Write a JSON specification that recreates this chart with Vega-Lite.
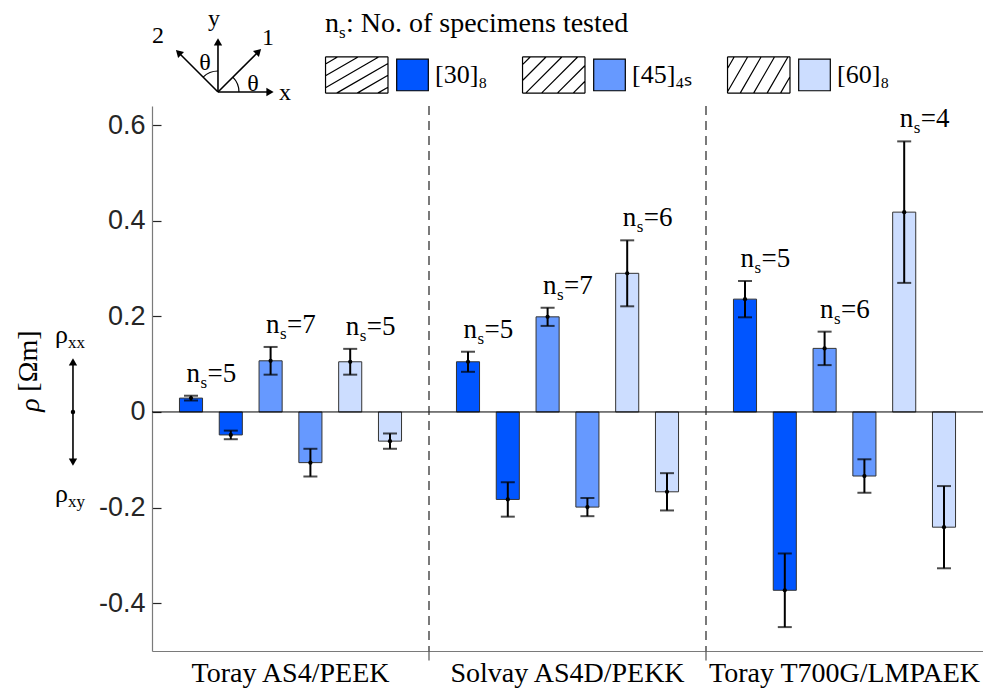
{
  "$schema": "https://vega.github.io/schema/vega-lite/v6.json",
  "width": 831,
  "height": 545,
  "autosize": {"type": "none"},
  "padding": {"left": 152, "top": 106, "right": 0, "bottom": 38},
  "background": "white",
  "config": {"view": {"stroke": null}, "font": "Liberation Serif"},
  "datasets": {
    "resistivity": [
      {"material": "Toray AS4/PEEK", "layup": "30", "comp": "xx", "rho": 0.029, "err": 0.005, "ns": 5},
      {"material": "Toray AS4/PEEK", "layup": "30", "comp": "xy", "rho": -0.048, "err": 0.009, "ns": 5},
      {"material": "Toray AS4/PEEK", "layup": "45", "comp": "xx", "rho": 0.107, "err": 0.029, "ns": 7},
      {"material": "Toray AS4/PEEK", "layup": "45", "comp": "xy", "rho": -0.106, "err": 0.029, "ns": 7},
      {"material": "Toray AS4/PEEK", "layup": "60", "comp": "xx", "rho": 0.105, "err": 0.027, "ns": 5},
      {"material": "Toray AS4/PEEK", "layup": "60", "comp": "xy", "rho": -0.061, "err": 0.016, "ns": 5},
      {"material": "Solvay AS4D/PEKK", "layup": "30", "comp": "xx", "rho": 0.105, "err": 0.021, "ns": 5},
      {"material": "Solvay AS4D/PEKK", "layup": "30", "comp": "xy", "rho": -0.183, "err": 0.036, "ns": 5},
      {"material": "Solvay AS4D/PEKK", "layup": "45", "comp": "xx", "rho": 0.199, "err": 0.019, "ns": 7},
      {"material": "Solvay AS4D/PEKK", "layup": "45", "comp": "xy", "rho": -0.199, "err": 0.019, "ns": 7},
      {"material": "Solvay AS4D/PEKK", "layup": "60", "comp": "xx", "rho": 0.290, "err": 0.069, "ns": 6},
      {"material": "Solvay AS4D/PEKK", "layup": "60", "comp": "xy", "rho": -0.167, "err": 0.039, "ns": 6},
      {"material": "Toray T700G/LMPAEK", "layup": "30", "comp": "xx", "rho": 0.236, "err": 0.038, "ns": 5},
      {"material": "Toray T700G/LMPAEK", "layup": "30", "comp": "xy", "rho": -0.373, "err": 0.077, "ns": 5},
      {"material": "Toray T700G/LMPAEK", "layup": "45", "comp": "xx", "rho": 0.133, "err": 0.035, "ns": 6},
      {"material": "Toray T700G/LMPAEK", "layup": "45", "comp": "xy", "rho": -0.134, "err": 0.035, "ns": 6},
      {"material": "Toray T700G/LMPAEK", "layup": "60", "comp": "xx", "rho": 0.418, "err": 0.148, "ns": 4},
      {"material": "Toray T700G/LMPAEK", "layup": "60", "comp": "xy", "rho": -0.241, "err": 0.086, "ns": 4}
    ],
    "dividers": [
      {"material": "Solvay AS4D/PEKK"},
      {"material": "Toray T700G/LMPAEK"}
    ],
    "arrows": [
      {"fx": 0.0794, "v": 0.6693, "fx2": 0.1420, "v2": 0.6693},
      {"fx": 0.0794, "v": 0.6693, "fx2": 0.0794, "v2": 0.7739},
      {"fx": 0.0794, "v": 0.6693, "fx2": 0.1282, "v2": 0.7540},
      {"fx": 0.0794, "v": 0.6693, "fx2": 0.0319, "v2": 0.7519},
      {"fx": -0.0951, "v": -0.105, "fx2": -0.0951, "v2": 0.105}
    ],
    "heads": [
      {"fx": 0.1420, "v": 0.6693, "angle": 90},
      {"fx": 0.0794, "v": 0.7739, "angle": 0},
      {"fx": 0.1282, "v": 0.7540, "angle": 45},
      {"fx": 0.0319, "v": 0.7519, "angle": -45},
      {"fx": -0.0951, "v": 0.105, "angle": 0},
      {"fx": -0.0951, "v": -0.105, "angle": 180}
    ],
    "angles": [
      {"fx": 0.0794, "v": 0.6693, "t0": 0.785398, "t1": 1.570796},
      {"fx": 0.0794, "v": 0.6693, "t0": -0.785398, "t1": 0}
    ],
    "axisLabels": [
      {"fx": 0.160, "v": 0.6526, "label": "x"},
      {"fx": 0.0746, "v": 0.8073, "label": "y"},
      {"fx": 0.1396, "v": 0.7676, "label": "1"},
      {"fx": 0.0072, "v": 0.7718, "label": "2"},
      {"fx": 0.1215, "v": 0.6714, "label": "θ"},
      {"fx": 0.0638, "v": 0.7153, "label": "θ"}
    ],
    "components": [
      {"fx": -0.1011, "v": 0.1443, "sym": "ρ", "sub": "xx"},
      {"fx": -0.1011, "v": -0.1883, "sym": "ρ", "sub": "xy"}
    ],
    "legendHeading": [
      {"fx": 0.2082, "v": 0.7948, "part": "n", "role": "main"},
      {"fx": 0.2250, "v": 0.7948, "part": "s", "role": "sub"},
      {"fx": 0.2334, "v": 0.7948, "part": ": No. of specimens tested", "role": "main"}
    ]
  },
  "layer": [
    {
      "data": {"name": "resistivity"},
      "transform": [
        {"calculate": "datum.rho - datum.err", "as": "lo"},
        {"calculate": "datum.rho + datum.err", "as": "hi"},
        {"calculate": "datum.layup + datum.comp", "as": "series"},
        {"calculate": "'=' + datum.ns", "as": "count"}
      ],
      "layer": [
        {
          "mark": {"type": "bar", "stroke": "#333333", "strokeWidth": 1},
          "encoding": {
            "x": {
              "field": "material", "type": "nominal",
              "scale": {"domain": ["Toray AS4/PEEK", "Solvay AS4D/PEKK", "Toray T700G/LMPAEK"], "paddingInner": 0, "paddingOuter": 0},
              "axis": {
                "title": null, "ticks": false, "labelAngle": 0, "labelLimit": 0, "orient": "bottom",
                "labelFont": "Liberation Serif", "labelFontSize": 28, "labelColor": "black",
                "labelPadding": 8, "domainColor": "#7a7a7a", "domainWidth": 1.2
              }
            },
            "xOffset": {
              "field": "series", "type": "nominal",
              "scale": {"domain": ["30xx", "30xy", "45xx", "45xy", "60xx", "60xy"], "paddingInner": 0.42, "paddingOuter": 0.69}
            },
            "y": {
              "field": "rho", "type": "quantitative",
              "scale": {"domain": [-0.5, 0.64], "nice": false, "zero": false},
              "axis": {
                "title": null, "grid": false, "orient": "left",
                "values": [-0.4, -0.2, 0, 0.2, 0.4, 0.6],
                "labelExpr": "datum.value == 0 ? '0' : replace(format(datum.value, '.1f'), '\u2212', '-')",
                "labelFont": "Liberation Sans", "labelFontSize": 27, "labelColor": "#262626",
                "tickSize": -9, "tickColor": "#262626", "tickWidth": 1.2, "labelPadding": 16,
                "domainColor": "#7a7a7a", "domainWidth": 1.2
              }
            },
            "color": {
              "field": "layup", "type": "nominal",
              "scale": {"domain": ["30", "45", "60"], "range": ["#0055ff", "#6699ff", "#ccddff"]},
              "legend": {
                "title": null,
                "orient": "none", "legendX": 244, "legendY": -48,
                "direction": "horizontal", "columns": 3, "columnPadding": 32,
                "labelFont": "Liberation Serif", "labelFontSize": 26, "labelColor": "black", "labelOffset": 6,
                "labelExpr": "datum.value == '30' ? '[30]₈' : datum.value == '45' ? '[45]₄ₛ' : '[60]₈'",
                "symbolSize": 1000, "symbolStrokeColor": "black", "symbolStrokeWidth": 1.2, "symbolOpacity": 1,
                "encode": {"symbols": {"update": {"stroke": {"value": "black"}, "strokeWidth": {"value": 1.2}, "opacity": {"value": 1}}}}
              }
            }
          }
        },
        {
          "mark": {"type": "rule", "color": "black", "strokeWidth": 2},
          "encoding": {
            "x": {"field": "material", "type": "nominal", "scale": {"domain": ["Toray AS4/PEEK", "Solvay AS4D/PEKK", "Toray T700G/LMPAEK"], "paddingInner": 0, "paddingOuter": 0}},
            "xOffset": {"field": "series", "type": "nominal", "scale": {"domain": ["30xx", "30xy", "45xx", "45xy", "60xx", "60xy"], "paddingInner": 0.42, "paddingOuter": 0.69}},
            "y": {"field": "lo", "type": "quantitative", "title": null, "scale": {"domain": [-0.5, 0.64], "nice": false, "zero": false}},
            "y2": {"field": "hi"}
          }
        },
        {
          "mark": {"type": "tick", "color": "black", "thickness": 2, "size": 14, "orient": "horizontal"},
          "encoding": {
            "x": {"field": "material", "type": "nominal", "scale": {"domain": ["Toray AS4/PEEK", "Solvay AS4D/PEKK", "Toray T700G/LMPAEK"], "paddingInner": 0, "paddingOuter": 0}},
            "xOffset": {"field": "series", "type": "nominal", "scale": {"domain": ["30xx", "30xy", "45xx", "45xy", "60xx", "60xy"], "paddingInner": 0.42, "paddingOuter": 0.69}},
            "y": {"field": "hi", "type": "quantitative", "title": null, "scale": {"domain": [-0.5, 0.64], "nice": false, "zero": false}}
          }
        },
        {
          "mark": {"type": "tick", "color": "black", "thickness": 2, "size": 14, "orient": "horizontal"},
          "encoding": {
            "x": {"field": "material", "type": "nominal", "scale": {"domain": ["Toray AS4/PEEK", "Solvay AS4D/PEKK", "Toray T700G/LMPAEK"], "paddingInner": 0, "paddingOuter": 0}},
            "xOffset": {"field": "series", "type": "nominal", "scale": {"domain": ["30xx", "30xy", "45xx", "45xy", "60xx", "60xy"], "paddingInner": 0.42, "paddingOuter": 0.69}},
            "y": {"field": "lo", "type": "quantitative", "title": null, "scale": {"domain": [-0.5, 0.64], "nice": false, "zero": false}}
          }
        },
        {
          "mark": {"type": "point", "filled": true, "color": "black", "size": 18, "opacity": 1},
          "encoding": {
            "x": {"field": "material", "type": "nominal", "scale": {"domain": ["Toray AS4/PEEK", "Solvay AS4D/PEKK", "Toray T700G/LMPAEK"], "paddingInner": 0, "paddingOuter": 0}},
            "xOffset": {"field": "series", "type": "nominal", "scale": {"domain": ["30xx", "30xy", "45xx", "45xy", "60xx", "60xy"], "paddingInner": 0.42, "paddingOuter": 0.69}},
            "y": {"field": "rho", "type": "quantitative", "title": null, "scale": {"domain": [-0.5, 0.64], "nice": false, "zero": false}}
          }
        },
        {
          "transform": [{"filter": "datum.comp == 'xx'"}],
          "mark": {"type": "text", "font": "Liberation Serif", "fontSize": 27, "align": "right", "baseline": "alphabetic", "dx": 9, "dy": -14, "color": "black"},
          "encoding": {
            "x": {"field": "material", "type": "nominal", "scale": {"domain": ["Toray AS4/PEEK", "Solvay AS4D/PEKK", "Toray T700G/LMPAEK"], "paddingInner": 0, "paddingOuter": 0}},
            "xOffset": {"field": "series", "type": "nominal", "scale": {"domain": ["30xx", "30xy", "45xx", "45xy", "60xx", "60xy"], "paddingInner": 0.42, "paddingOuter": 0.69}},
            "y": {"field": "hi", "type": "quantitative", "title": null, "scale": {"domain": [-0.5, 0.64], "nice": false, "zero": false}},
            "text": {"value": "n"}
          }
        },
        {
          "transform": [{"filter": "datum.comp == 'xx'"}],
          "mark": {"type": "text", "font": "Liberation Serif", "fontSize": 17, "align": "left", "baseline": "alphabetic", "dx": 9.5, "dy": -8, "color": "black"},
          "encoding": {
            "x": {"field": "material", "type": "nominal", "scale": {"domain": ["Toray AS4/PEEK", "Solvay AS4D/PEKK", "Toray T700G/LMPAEK"], "paddingInner": 0, "paddingOuter": 0}},
            "xOffset": {"field": "series", "type": "nominal", "scale": {"domain": ["30xx", "30xy", "45xx", "45xy", "60xx", "60xy"], "paddingInner": 0.42, "paddingOuter": 0.69}},
            "y": {"field": "hi", "type": "quantitative", "title": null, "scale": {"domain": [-0.5, 0.64], "nice": false, "zero": false}},
            "text": {"value": "s"}
          }
        },
        {
          "transform": [{"filter": "datum.comp == 'xx'"}],
          "mark": {"type": "text", "font": "Liberation Serif", "fontSize": 27, "align": "left", "baseline": "alphabetic", "dx": 16.5, "dy": -14, "color": "black"},
          "encoding": {
            "x": {"field": "material", "type": "nominal", "scale": {"domain": ["Toray AS4/PEEK", "Solvay AS4D/PEKK", "Toray T700G/LMPAEK"], "paddingInner": 0, "paddingOuter": 0}},
            "xOffset": {"field": "series", "type": "nominal", "scale": {"domain": ["30xx", "30xy", "45xx", "45xy", "60xx", "60xy"], "paddingInner": 0.42, "paddingOuter": 0.69}},
            "y": {"field": "hi", "type": "quantitative", "title": null, "scale": {"domain": [-0.5, 0.64], "nice": false, "zero": false}},
            "text": {"field": "count"}
          }
        },
        {
          "transform": [{"filter": "false"}],
          "mark": {"type": "point", "filled": true, "opacity": 1},
          "encoding": {
            "x": {"field": "material", "type": "nominal", "scale": {"domain": ["Toray AS4/PEEK", "Solvay AS4D/PEKK", "Toray T700G/LMPAEK"], "paddingInner": 0, "paddingOuter": 0}},
            "y": {"field": "rho", "type": "quantitative", "title": null, "scale": {"domain": [-0.5, 0.64], "nice": false, "zero": false}},
            "color": {
              "field": "layup", "type": "nominal",
              "scale": {"domain": ["30", "45", "60"], "range": ["#0055ff", "#6699ff", "#ccddff"]}
            },
            "shape": {
              "field": "layup", "type": "nominal",
              "scale": {
                "domain": ["30", "45", "60"],
                "range": [
                  "M-5.5,-1.15L-1.55,-1.15M-1.55,-1.15L-1.55,1.15M-1.55,1.15L-5.5,1.15M-5.5,1.15L-5.5,-1.15M-5.5,-0.698L-4.717,-1.15M-5.5,0.053L-3.417,-1.15M-5.5,0.804L-2.117,-1.15M-4.8,1.15L-1.55,-0.727M-3.5,1.15L-1.55,0.024M-2.2,1.15L-1.55,0.775M-1,-1L1,-1L1,1L-1,1Z",
                  "M-5.5,-1.15L-1.55,-1.15M-1.55,-1.15L-1.55,1.15M-1.55,1.15L-5.5,1.15M-5.5,1.15L-5.5,-1.15M-5.5,-0.65L-5,-1.15M-5.5,0.35L-4,-1.15M-5.3,1.15L-3,-1.15M-4.3,1.15L-2,-1.15M-3.3,1.15L-1.55,-0.6M-2.3,1.15L-1.55,0.4M-1,-1L1,-1L1,1L-1,1Z",
                  "M-5.5,-1.15L-1.55,-1.15M-1.55,-1.15L-1.55,1.15M-1.55,1.15L-5.5,1.15M-5.5,1.15L-5.5,-1.15M-5.5,-0.409L-5.072,-1.15M-5.5,1.063L-4.222,-1.15M-4.7,1.15L-3.372,-1.15M-3.85,1.15L-2.522,-1.15M-3,1.15L-1.672,-1.15M-2.15,1.15L-1.55,0.111M-1,-1L1,-1L1,1L-1,1Z"
                ]
              },
              "legend": {"title": null}
            }
          }
        },
        {
          "data": {"values": [{"level": 0}]},
          "mark": {"type": "rule", "color": "black", "strokeWidth": 1},
          "encoding": {
            "y": {"field": "level", "type": "quantitative", "title": null, "scale": {"domain": [-0.5, 0.64], "nice": false, "zero": false}}
          }
        },
        {
          "data": {"name": "dividers"},
          "mark": {"type": "rule", "color": "#222222", "strokeWidth": 1.2, "strokeDash": [9, 6], "clip": false},
          "encoding": {
            "x": {"field": "material", "type": "nominal", "bandPosition": 0, "scale": {"domain": ["Toray AS4/PEEK", "Solvay AS4D/PEKK", "Toray T700G/LMPAEK"], "paddingInner": 0, "paddingOuter": 0}},
            "y": {"datum": 0.64, "type": "quantitative", "title": null, "scale": {"domain": [-0.5, 0.64], "nice": false, "zero": false}},
            "y2": {"datum": -0.5}
          }
        },
        {
          "data": {"name": "dividers"},
          "mark": {"type": "rule", "color": "#555555", "strokeWidth": 1.2, "clip": false},
          "encoding": {
            "x": {"field": "material", "type": "nominal", "bandPosition": 0, "scale": {"domain": ["Toray AS4/PEEK", "Solvay AS4D/PEKK", "Toray T700G/LMPAEK"], "paddingInner": 0, "paddingOuter": 0}},
            "y": {"datum": -0.5, "type": "quantitative", "title": null, "scale": {"domain": [-0.5, 0.64], "nice": false, "zero": false}},
            "y2": {"datum": -0.52}
          }
        }
      ]
    },
    {
      "layer": [
        {
          "data": {"name": "arrows"},
          "mark": {"type": "rule", "color": "black", "strokeWidth": 1.6, "clip": false},
          "encoding": {
            "x": {"field": "fx", "type": "quantitative", "scale": {"domain": [0, 1], "nice": false, "zero": false}, "axis": null},
            "y": {"field": "v", "type": "quantitative", "title": null, "scale": {"domain": [-0.5, 0.64], "nice": false, "zero": false}},
            "x2": {"field": "fx2"},
            "y2": {"field": "v2"}
          }
        },
        {
          "data": {"name": "heads"},
          "mark": {"type": "point", "shape": "triangle-up", "filled": true, "color": "black", "size": 70, "opacity": 1, "clip": false},
          "encoding": {
            "x": {"field": "fx", "type": "quantitative", "scale": {"domain": [0, 1], "nice": false, "zero": false}, "axis": null},
            "y": {"field": "v", "type": "quantitative", "title": null, "scale": {"domain": [-0.5, 0.64], "nice": false, "zero": false}},
            "angle": {"field": "angle", "type": "quantitative", "scale": null}
          }
        },
        {
          "data": {"values": [{"fx": -0.0951, "v": 0}]},
          "mark": {"type": "point", "filled": true, "color": "black", "size": 20, "opacity": 1, "clip": false},
          "encoding": {
            "x": {"field": "fx", "type": "quantitative", "scale": {"domain": [0, 1], "nice": false, "zero": false}, "axis": null},
            "y": {"field": "v", "type": "quantitative", "title": null, "scale": {"domain": [-0.5, 0.64], "nice": false, "zero": false}}
          }
        },
        {
          "data": {"name": "angles"},
          "mark": {"type": "arc", "radius": 21.6, "radius2": 20.4, "color": "black", "clip": false},
          "encoding": {
            "x": {"field": "fx", "type": "quantitative", "scale": {"domain": [0, 1], "nice": false, "zero": false}, "axis": null},
            "y": {"field": "v", "type": "quantitative", "title": null, "scale": {"domain": [-0.5, 0.64], "nice": false, "zero": false}},
            "theta": {"field": "t0", "type": "quantitative", "scale": null, "stack": null},
            "theta2": {"field": "t1"}
          }
        },
        {
          "data": {"name": "axisLabels"},
          "mark": {"type": "text", "font": "Liberation Serif", "fontSize": 24, "align": "center", "baseline": "alphabetic", "color": "black", "clip": false},
          "encoding": {
            "x": {"field": "fx", "type": "quantitative", "scale": {"domain": [0, 1], "nice": false, "zero": false}, "axis": null},
            "y": {"field": "v", "type": "quantitative", "title": null, "scale": {"domain": [-0.5, 0.64], "nice": false, "zero": false}},
            "text": {"field": "label"}
          }
        },
        {
          "data": {"name": "legendHeading"},
          "transform": [{"filter": "datum.role == 'main'"}],
          "mark": {"type": "text", "font": "Liberation Serif", "fontSize": 28, "align": "left", "baseline": "alphabetic", "color": "black", "clip": false},
          "encoding": {
            "x": {"field": "fx", "type": "quantitative", "scale": {"domain": [0, 1], "nice": false, "zero": false}, "axis": null},
            "y": {"field": "v", "type": "quantitative", "title": null, "scale": {"domain": [-0.5, 0.64], "nice": false, "zero": false}},
            "text": {"field": "part"}
          }
        },
        {
          "data": {"name": "legendHeading"},
          "transform": [{"filter": "datum.role == 'sub'"}],
          "mark": {"type": "text", "font": "Liberation Serif", "fontSize": 17, "align": "left", "baseline": "alphabetic", "dy": 6, "color": "black", "clip": false},
          "encoding": {
            "x": {"field": "fx", "type": "quantitative", "scale": {"domain": [0, 1], "nice": false, "zero": false}, "axis": null},
            "y": {"field": "v", "type": "quantitative", "title": null, "scale": {"domain": [-0.5, 0.64], "nice": false, "zero": false}},
            "text": {"field": "part"}
          }
        },
        {
          "data": {"name": "components"},
          "mark": {"type": "text", "font": "Liberation Serif", "fontSize": 26, "align": "right", "baseline": "alphabetic", "color": "black", "clip": false},
          "encoding": {
            "x": {"field": "fx", "type": "quantitative", "scale": {"domain": [0, 1], "nice": false, "zero": false}, "axis": null},
            "y": {"field": "v", "type": "quantitative", "title": null, "scale": {"domain": [-0.5, 0.64], "nice": false, "zero": false}},
            "text": {"field": "sym"}
          }
        },
        {
          "data": {"name": "components"},
          "mark": {"type": "text", "font": "Liberation Serif", "fontSize": 17, "align": "left", "baseline": "alphabetic", "dy": 5, "color": "black", "clip": false},
          "encoding": {
            "x": {"field": "fx", "type": "quantitative", "scale": {"domain": [0, 1], "nice": false, "zero": false}, "axis": null},
            "y": {"field": "v", "type": "quantitative", "title": null, "scale": {"domain": [-0.5, 0.64], "nice": false, "zero": false}},
            "text": {"field": "sub"}
          }
        },
        {
          "data": {"values": [{"fx": -0.148, "v": 0.1066, "part": "[Ωm]"}]},
          "mark": {"type": "text", "font": "Liberation Serif", "fontSize": 28, "align": "center", "baseline": "middle", "angle": 270, "color": "black", "clip": false},
          "encoding": {
            "x": {"field": "fx", "type": "quantitative", "scale": {"domain": [0, 1], "nice": false, "zero": false}, "axis": null},
            "y": {"field": "v", "type": "quantitative", "title": null, "scale": {"domain": [-0.5, 0.64], "nice": false, "zero": false}},
            "text": {"field": "part"}
          }
        },
        {
          "data": {"values": [{"fx": -0.1456, "v": 0.0146, "part": "ρ"}]},
          "mark": {"type": "text", "font": "Liberation Serif", "fontSize": 28, "fontStyle": "italic", "align": "center", "baseline": "middle", "angle": 270, "color": "black", "clip": false},
          "encoding": {
            "x": {"field": "fx", "type": "quantitative", "scale": {"domain": [0, 1], "nice": false, "zero": false}, "axis": null},
            "y": {"field": "v", "type": "quantitative", "title": null, "scale": {"domain": [-0.5, 0.64], "nice": false, "zero": false}},
            "text": {"field": "part"}
          }
        }
      ]
    }
  ],
  "resolve": {"scale": {"x": "independent"}}
}
